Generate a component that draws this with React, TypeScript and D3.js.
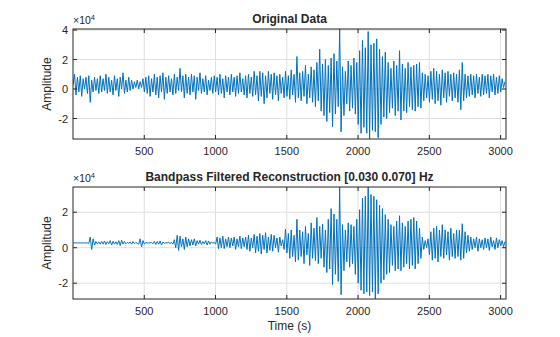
import React from "react";
import * as d3 from "d3";

// Sample spacing (s) and time axis limits
const DT = 10;
const T0 = 1;
const X_DOMAIN: [number, number] = [0, 3038];
const X_TICKS = [500, 1000, 1500, 2000, 2500, 3000];

// Top panel: original data (×1e4)
const ORIG_Y_DOMAIN: [number, number] = [-3.39, 4.07];
const ORIG_Y_TICKS = [-2, 0, 2, 4];
const original = [
  0.3, 1.0, -0.4, 0.8, -0.2, 0.9, -0.5, 0.7, 0.0, 0.8,
  -0.3, 0.9, -0.9, 0.6, -0.2, 0.8, -0.1, 0.7, -0.3, 0.9,
  -0.2, 0.7, -0.1, 1.0, -0.3, 0.8, -0.2, 0.6, -0.4, 0.9,
  -0.1, 0.7, -0.5, 0.8, 0.0, 1.1, -0.3, 0.6, -0.2, 0.8,
  -0.1, 0.6, 0.0, 0.5, 0.1, 0.6, 0.0, 0.5, 0.1, 0.7,
  -0.2, 0.8, -0.3, 0.9, -0.5, 0.7, -0.2, 1.0, -0.4, 0.8,
  -0.6, 0.9, -0.2, 1.1, -0.7, 0.8, -0.3, 0.9, -0.2, 0.7,
  -0.4, 1.0, -0.3, 0.8, -0.1, 1.4, -0.2, 0.9, -0.6, 1.0,
  -0.3, 0.8, -0.4, 1.0, -0.2, 0.9, -0.7, 0.8, -0.1, 1.1,
  -0.3, 0.7, -0.2, 0.9, -0.4, 0.6, -0.1, 0.8, -0.3, 0.9,
  -0.2, 0.8, -0.4, 1.0, -0.3, 0.7, -0.6, 0.9, -0.2, 0.8,
  -0.4, 1.0, -0.2, 0.8, -0.5, 0.9, -0.3, 1.1, -0.2, 0.7,
  -0.4, 0.9, -0.6, 1.0, -0.3, 0.8, -0.5, 1.2, -0.4, 0.9,
  -0.8, 1.2, -0.5, 1.1, -1.0, 0.9, -0.6, 1.2, -0.3, 1.0,
  -0.7, 1.1, -0.4, 0.9, -0.8, 1.0, -0.3, 0.8, -0.6, 1.2,
  -0.5, 0.9, -0.7, 1.3, -0.4, 1.0, -0.9, 2.2, -0.6, 1.1,
  -0.8, 1.2, -0.5, 1.6, -1.0, 1.0, -0.6, 1.5, -0.9, 1.3,
  -1.2, 1.8, -0.8, 2.7, -1.5, 1.7, -1.8, 2.0, -2.2, 1.6,
  -1.6, 2.1, -2.55, 2.4, -1.7, 1.9, -1.2, 4.07, -2.9, 1.5,
  -1.8, 1.2, -1.0, 1.9, -1.5, 1.6, -1.3, 2.1, -1.7, 1.8,
  -2.4, 2.6, -3.0, 3.3, -2.6, 2.8, -3.0, 3.9, -3.39, 3.0,
  -2.8, 3.1, -2.9, 3.4, -3.3, 2.7, -2.4, 2.2, -1.9, 2.5,
  -2.0, 1.8, -1.6, 1.4, -1.3, 1.9, -1.8, 1.6, -1.5, 2.6,
  -2.1, 1.7, -1.5, 1.4, -1.6, 1.8, -1.2, 1.5, -1.4, 1.6,
  -1.5, 1.7, -1.2, 1.8, -1.3, 1.1, -0.8, 1.0, -0.6, 0.9,
  -0.9, 1.2, -0.7, 1.4, -1.0, 1.2, -0.8, 1.0, -1.1, 1.3,
  -0.6, 1.1, -0.9, 1.2, -0.5, 1.0, -0.8, 1.1, -0.6, 1.0,
  -0.9, 1.3, -1.4, 1.8, -0.8, 1.0, -0.6, 0.9, -0.5, 1.0,
  -0.4, 0.9, -0.6, 1.0, -0.3, 0.8, -0.5, 1.0, -0.4, 0.9,
  -0.3, 1.0, -0.6, 0.9, -0.2, 1.0, -0.4, 0.8, -0.3, 0.9,
  -0.2, 0.7, 0.1, 0.5,
];

// Bottom panel: bandpass filtered reconstruction (×1e4)
const FILT_Y_DOMAIN: [number, number] = [-2.89, 3.42];
const FILT_Y_TICKS = [-2, 0, 2];
const filtered = [
  0.27, 0.27, 0.27, 0.27, 0.27, 0.27, 0.27, 0.27, 0.27, 0.27,
  0.27, 0.25, 0.6, -0.1, 0.5, 0.15, 0.35, 0.22, 0.33, 0.2,
  0.35, 0.2, 0.38, 0.18, 0.34, 0.22, 0.4, 0.15, 0.36, 0.2,
  0.33, 0.18, 0.4, 0.12, 0.42, 0.2, 0.36, 0.22, 0.3, 0.25,
  0.32, 0.2, 0.35, 0.22, 0.3, 0.24, 0.2, 0.5, 0.05, 0.4,
  0.2, 0.3, 0.26, 0.28, 0.27, 0.3, 0.22, 0.36, 0.18, 0.35,
  0.2, 0.38, 0.15, 0.32, 0.25, 0.28, 0.27, 0.3, 0.24, 0.3,
  0.2, 0.45, 0.0, 0.7, -0.15, 0.65, 0.05, 0.5, -0.1, 0.6,
  0.05, 0.5, 0.1, 0.45, 0.15, 0.5, 0.1, 0.4, 0.2, 0.42,
  0.18, 0.35, 0.22, 0.4, 0.15, 0.38, 0.2, 0.33, 0.25, 0.3,
  0.2, 0.6, -0.05, 0.55, 0.0, 0.65, -0.05, 0.5, 0.05, 0.6,
  0.0, 0.55, 0.1, 0.6, -0.1, 0.5, 0.05, 0.65, -0.05, 0.55,
  0.05, 0.6, -0.1, 0.7, -0.2, 0.55, 0.0, 0.75, -0.3, 0.65,
  -0.2, 0.8, -0.35, 0.7, -0.1, 0.85, -0.3, 0.6, -0.15, 0.75,
  -0.2, 0.7, 0.0, 0.55, -0.25, 0.6, 0.1, 0.45, -0.1, 1.05,
  -0.3, 0.8, -0.6, 1.0, -0.5, 0.7, -0.8, 1.6, -0.7, 1.0,
  -0.5, 0.9, -0.9, 1.2, -0.4, 0.8, -1.0, 1.4, -0.6, 1.1,
  -0.73, 1.7, -0.9, 1.2, -0.6, 1.33, -1.1, 1.0, -1.4, 1.6,
  -1.2, 2.2, -2.08, 1.9, -1.5, 1.6, -1.9, 3.42, -2.65, 1.3,
  -1.3, 1.0, -0.8, 1.4, -1.1, 1.3, -0.9, 1.2, -1.5, 1.6,
  -2.0, 2.14, -2.4, 2.8, -2.6, 2.9, -2.5, 3.42, -2.7, 3.0,
  -2.5, 2.9, -2.89, 2.7, -2.6, 2.4, -2.0, 2.2, -1.8, 1.86,
  -1.5, 1.6, -1.4, 1.3, -1.0, 1.2, -1.3, 1.5, -1.2, 1.8,
  -1.3, 1.4, -1.1, 1.2, -0.9, 1.5, -1.2, 1.6, -1.0, 1.7,
  -1.2, 1.5, -0.9, 1.1, -0.6, 0.6, -0.1, 0.4, 0.0, 0.5,
  -0.4, 0.9, -0.7, 1.1, -0.6, 1.2, -0.8, 1.0, -0.5, 1.3,
  -0.6, 1.0, -0.4, 0.9, -0.7, 1.1, -0.5, 0.8, -0.6, 1.0,
  -0.5, 1.0, -0.7, 1.35, -0.6, 0.9, -0.3, 0.7, -0.2, 0.6,
  -0.1, 0.5, 0.0, 0.6, -0.2, 0.5, 0.0, 0.45, -0.1, 0.55,
  0.0, 0.5, -0.15, 0.6, 0.05, 0.4, -0.1, 0.55, 0.0, 0.45,
  0.1, 0.4, 0.05, 0.35,
];

const TITLES = ["Original Data", "Bandpass Filtered Reconstruction [0.030 0.070] Hz"];
const Y_LABEL = "Amplitude";
const X_LABEL = "Time (s)";

const W = 560;
const H = 337;
const FONT = "'Liberation Sans', Arial, Helvetica, sans-serif";
const AX = "#262626";
const GRID = "#dfdfdf";
const LINE = "#0072BD";

type PanelProps = {
  top: number;
  bottom: number;
  data: number[];
  yDomain: [number, number];
  yTicks: number[];
  title: string;
  showXLabel: boolean;
  id: string;
};

const LEFT = 73;
const RIGHT = 506;

function Panel({ top, bottom, data, yDomain, yTicks, title, showXLabel, id }: PanelProps) {
  const x = d3.scaleLinear().domain(X_DOMAIN).range([LEFT, RIGHT]);
  const y = d3.scaleLinear().domain(yDomain).range([bottom, top]);
  const line = d3
    .line<number>()
    .x((_, i) => x(T0 + i * DT))
    .y((d) => y(d));
  const tick = 4;
  return (
    <g>
      <defs>
        <clipPath id={id}>
          <rect x={LEFT} y={top} width={RIGHT - LEFT} height={bottom - top} />
        </clipPath>
      </defs>
      <rect x={LEFT} y={top} width={RIGHT - LEFT} height={bottom - top} fill="#fff" />
      {X_TICKS.map((t) => (
        <line key={"gx" + t} x1={x(t)} x2={x(t)} y1={top} y2={bottom} stroke={GRID} strokeWidth={1} />
      ))}
      {yTicks.map((t) => (
        <line key={"gy" + t} x1={LEFT} x2={RIGHT} y1={y(t)} y2={y(t)} stroke={GRID} strokeWidth={1} />
      ))}
      <path d={line(data) || ""} fill="none" stroke={LINE} strokeWidth={1} clipPath={`url(#${id})`} />
      <rect x={LEFT} y={top} width={RIGHT - LEFT} height={bottom - top} fill="none" stroke={AX} strokeWidth={1} />
      {X_TICKS.map((t) => (
        <g key={"tx" + t}>
          <line x1={x(t)} x2={x(t)} y1={bottom} y2={bottom - tick} stroke={AX} />
          <line x1={x(t)} x2={x(t)} y1={top} y2={top + tick} stroke={AX} />
          <text x={x(t)} y={bottom + 16} textAnchor="middle" fontSize={11} fill={AX} fontFamily={FONT}>
            {t}
          </text>
        </g>
      ))}
      {yTicks.map((t) => (
        <g key={"ty" + t}>
          <line x1={LEFT} x2={LEFT + tick} y1={y(t)} y2={y(t)} stroke={AX} />
          <line x1={RIGHT} x2={RIGHT - tick} y1={y(t)} y2={y(t)} stroke={AX} />
          <text x={LEFT - 5} y={y(t) + 4} textAnchor="end" fontSize={11} fill={AX} fontFamily={FONT}>
            {t}
          </text>
        </g>
      ))}
      <text x={LEFT} y={top - 5} fontSize={10.5} fill={AX} fontFamily={FONT}>
        ×10
        <tspan dy={-4} fontSize={7.5}>4</tspan>
      </text>
      <text x={(LEFT + RIGHT) / 2} y={top - 6} textAnchor="middle" fontSize={12} fontWeight="bold" fill={AX} fontFamily={FONT}>
        {title}
      </text>
      <text
        transform={`translate(${LEFT - 22},${(top + bottom) / 2}) rotate(-90)`}
        textAnchor="middle"
        fontSize={12}
        fill={AX}
        fontFamily={FONT}
      >
        {Y_LABEL}
      </text>
      {showXLabel && (
        <text x={(LEFT + RIGHT) / 2} y={bottom + 31} textAnchor="middle" fontSize={12} fill={AX} fontFamily={FONT}>
          {X_LABEL}
        </text>
      )}
    </g>
  );
}

export default function App() {
  return (
    <svg width={W} height={H} style={{ position: "absolute", left: 0, top: 0, background: "#fff" }}>
      <rect width={W} height={H} fill="#fff" />
      <Panel top={29} bottom={139} data={original} yDomain={ORIG_Y_DOMAIN} yTicks={ORIG_Y_TICKS} title={TITLES[0]} showXLabel={false} id="c1" />
      <Panel top={187} bottom={299} data={filtered} yDomain={FILT_Y_DOMAIN} yTicks={FILT_Y_TICKS} title={TITLES[1]} showXLabel={true} id="c2" />
    </svg>
  );
}
